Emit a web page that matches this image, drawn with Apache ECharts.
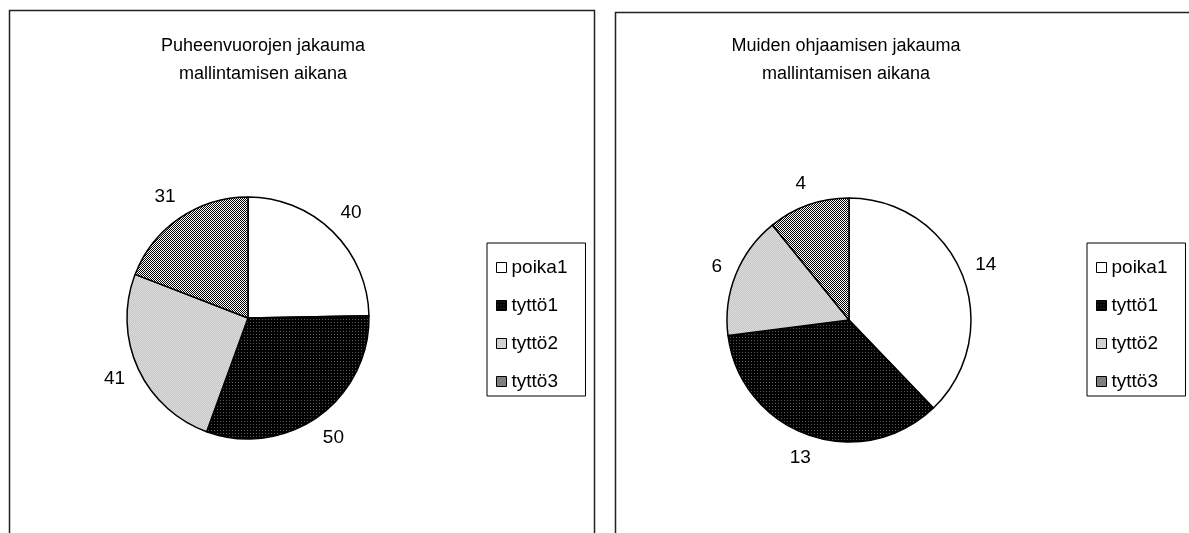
<!DOCTYPE html>
<html>
<head>
<meta charset="utf-8">
<script src="https://cdn.jsdelivr.net/npm/echarts@6/dist/echarts.min.js"></script>
<style>
  html, body { margin: 0; padding: 0; background: #fff; }
  #chart { width: 1189px; height: 533px; }
</style>
</head>
<body>
<div id="chart"></div>
<script>
// Categories and values for the two pie charts
const categories = ['poika1', 'tyttö1', 'tyttö2', 'tyttö3'];
const puheenvuorot = [40, 50, 41, 31];
const ohjaaminen = [14, 13, 6, 4];
const titleLeft = 'Puheenvuorojen jakauma\nmallintamisen aikana';
const titleRight = 'Muiden ohjaamisen jakauma\nmallintamisen aikana';

const FONT = '"Liberation Sans", Arial, sans-serif';

// Small repeating bitmap fills in the style of monochrome print patterns
function makeCanvas(size, bg, fg, pixels) {
  const c = document.createElement('canvas');
  c.width = size; c.height = size;
  const ctx = c.getContext('2d');
  ctx.fillStyle = bg; ctx.fillRect(0, 0, size, size);
  ctx.fillStyle = fg;
  pixels.forEach(p => ctx.fillRect(p[0], p[1], 1, 1));
  return c;
}

const canvases = [
  null,
  makeCanvas(3, '#000000', '#5a5a5a', [[1, 1]]),
  makeCanvas(2, '#c4c4c4', '#dedede', [[0, 0], [1, 1]]),
  makeCanvas(4, '#ffffff', '#000000', [[0, 0], [1, 1], [2, 2], [3, 3], [2, 0], [3, 1], [0, 2], [1, 3]])
];

function fillFor(i) {
  return canvases[i] ? { image: canvases[i], repeat: 'repeat' } : '#ffffff';
}

function pieData(values) {
  return categories.map((name, i) => ({
    name: name,
    value: values[i],
    itemStyle: { color: fillFor(i) }
  }));
}

function pieSeries(values, center, radius) {
  const total = values.reduce((a, b) => a + b, 0);
  return {
    type: 'pie',
    center: center,
    radius: radius,
    startAngle: 90,
    clockwise: true,
    animation: false,
    avoidLabelOverlap: false,
    emphasis: { disabled: true },
    itemStyle: { borderColor: '#000', borderWidth: 1.5 },
    label: {
      show: true,
      position: 'outside',
      formatter: '{c}',
      color: '#000',
      fontFamily: FONT,
      fontSize: 19
    },
    labelLine: { show: false, length: 15, length2: 0 },
    // Value labels sit just outside the rim, centred on each slice's mid-angle
    labelLayout: function (p) {
      const i = p.dataIndex;
      let before = 0;
      for (let k = 0; k < i; k++) before += values[k];
      const mid = (before + values[i] / 2) / total * Math.PI * 2;
      const ux = Math.sin(mid), uy = -Math.cos(mid);
      const w = p.labelRect.width, h = p.labelRect.height;
      const d = radius + 12 + 0.5 * (w * Math.abs(ux) + h * Math.abs(uy));
      return {
        x: center[0] + ux * d,
        y: center[1] + uy * d,
        align: 'center',
        verticalAlign: 'middle'
      };
    },
    data: pieData(values)
  };
}

function legendBox(left) {
  return {
    orient: 'vertical',
    left: left,
    top: 243,
    data: categories.map((name, i) => ({
      name: name,
      itemStyle: { color: fillFor(i), borderColor: '#000', borderWidth: 1 }
    })),
    icon: 'rect',
    itemWidth: 10,
    itemHeight: 10,
    itemGap: 17,
    itemTextGap: 9,
    selectedMode: false,
    padding: [14, 18, 4, 9],
    borderColor: '#000',
    borderWidth: 1,
    textStyle: { color: '#000', fontFamily: FONT, fontSize: 19, lineHeight: 21 }
  };
}

function titleBox(text, centerX) {
  return {
    text: text,
    left: centerX,
    top: 27,
    textAlign: 'center',
    textStyle: { color: '#000', fontFamily: FONT, fontSize: 18, fontWeight: 'normal', lineHeight: 28 }
  };
}

const chart = echarts.init(document.getElementById('chart'));
chart.setOption({
  backgroundColor: '#fff',
  animation: false,
  title: [titleBox(titleLeft, 258), titleBox(titleRight, 841)],
  legend: [legendBox(487), legendBox(1087)],
  graphic: [
    { type: 'rect', shape: { x: 9.5, y: 10.5, width: 585, height: 600 },
      style: { fill: 'none', stroke: '#222', lineWidth: 1.5 }, silent: true, z: -1 },
    { type: 'rect', shape: { x: 615.5, y: 12.5, width: 620, height: 600 },
      style: { fill: 'none', stroke: '#222', lineWidth: 1.5 }, silent: true, z: -1 }
  ],
  series: [
    pieSeries(puheenvuorot, [248, 318], 121),
    pieSeries(ohjaaminen, [849, 320], 122)
  ]
});
</script>
</body>
</html>
